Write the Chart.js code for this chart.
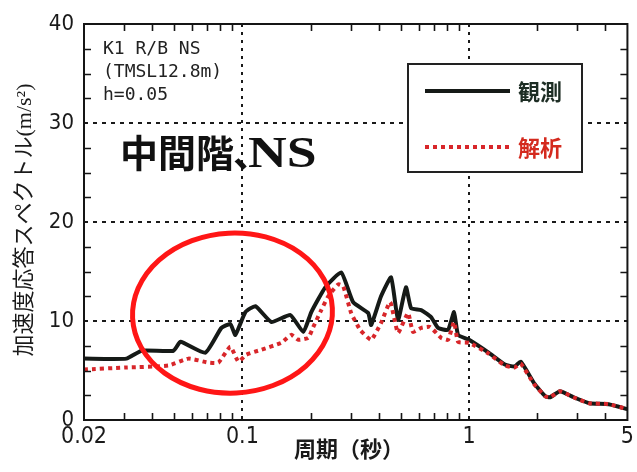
<!DOCTYPE html>
<html>
<head>
<meta charset="utf-8">
<script src="https://cdn.jsdelivr.net/npm/chart.js@4.4.1/dist/chart.umd.min.js"></script>
<style>
  html, body { margin: 0; padding: 0; background: #fff; }
  #wrap { width: 637px; height: 472px; position: relative; }
</style>
</head>
<body>
<div id="wrap"><canvas id="spectrumChart"></canvas></div>
<script>
// 周期 (秒) / 加速度応答 (m/s2)
const obsPeriod = [0.02, 0.0308, 0.0359, 0.0497, 0.0533, 0.0687, 0.0808, 0.0885, 0.0931, 0.1031,
  0.1141, 0.1342, 0.1627, 0.1857, 0.2014, 0.2321, 0.273, 0.308, 0.359, 0.370,
  0.409, 0.453, 0.486, 0.527, 0.555, 0.615, 0.680, 0.730, 0.808, 0.859,
  0.895, 1.0, 1.22, 1.44, 1.59, 1.69, 1.94, 2.17, 2.28, 2.52,
  2.89, 3.39, 4.13, 5.0];
const obsAccel = [6.2, 6.2, 7.0, 7.0, 7.9, 6.8, 9.3, 9.7, 8.6, 10.9,
  11.5, 9.9, 10.6, 8.9, 10.9, 13.4, 14.9, 11.9, 10.8, 9.6,
  12.5, 14.4, 10.1, 13.4, 11.3, 11.1, 10.4, 9.3, 9.1, 10.9,
  8.6, 8.1, 6.8, 5.6, 5.4, 5.9, 3.7, 2.4, 2.3, 2.9,
  2.3, 1.7, 1.6, 1.1];

const anaPeriod = [0.02, 0.0305, 0.0472, 0.0578, 0.0708, 0.0784, 0.0885, 0.0960, 0.1041, 0.1212,
  0.1485, 0.1644, 0.1765, 0.1953, 0.2055, 0.2228, 0.2393, 0.2648, 0.2786, 0.302,
  0.331, 0.370, 0.409, 0.449, 0.486, 0.538, 0.566, 0.615, 0.673, 0.753,
  0.808, 0.859, 0.895, 1.0, 1.22, 1.44, 1.59, 1.69, 1.94, 2.17,
  2.28, 2.52, 2.89, 3.39, 4.13, 5.0];
const anaAccel = [5.1, 5.3, 5.5, 6.2, 5.8, 5.8, 7.4, 5.9, 6.6, 7.1,
  7.8, 8.6, 8.1, 8.3, 9.4, 11.1, 12.5, 13.7, 13.5, 10.8,
  9.1, 8.1, 9.8, 11.9, 8.8, 10.8, 8.9, 9.3, 9.4, 8.3,
  8.1, 9.9, 7.9, 7.8, 6.7, 5.5, 5.3, 5.7, 3.6, 2.4,
  2.3, 2.9, 2.3, 1.7, 1.6, 1.1];

const seriesLabels = ['観測', '解析'];
const xTickValues = [0.02, 0.1, 1, 5];
const xTickLabels = ['0.02', '0.1', '1', '5'];
const xMinorTicks = [0.03, 0.04, 0.05, 0.06, 0.07, 0.08, 0.09, 0.2, 0.3, 0.4, 0.5, 0.6, 0.7, 0.8, 0.9, 2, 3, 4];
const yMinorTicks = [2.5, 5, 7.5, 12.5, 15, 17.5, 22.5, 25, 27.5, 32.5, 35, 37.5];
const noteLines = ['K1 R/B NS', '(TMSL12.8m)', 'h=0.05'];
const bigNoteJp = '中間階';
const bigNoteSep = '、';
const bigNoteEn = 'NS';
const xTitle = '周期（秒）';
const yTitle = '加速度応答スペクトル(m/s²)';

document.addEventListener('DOMContentLoaded', () => {
  initSpectrumChart();
});

function initSpectrumChart() {
  const canvas = document.getElementById('spectrumChart');
  if (typeof Chart === 'undefined') {
    console.warn('Chart.js is not loaded.');
    return;
  }

  const obsColor = '#161a17';
  const anaColor = '#d8262a';
  const labelFont = "'Liberation Sans Narrow', 'DejaVu Sans Condensed', sans-serif";
  const jpFont = "'Noto Sans CJK JP', sans-serif";

  // frame, inward minor ticks, notes, legend box, red ellipse
  const decorPlugin = {
    id: 'decor',
    afterDraw(chart) {
      const { ctx, chartArea: a, scales: { x, y } } = chart;
      ctx.save();

      ctx.strokeStyle = '#151515';
      ctx.lineWidth = 2;
      ctx.strokeRect(a.left, a.top, a.right - a.left, a.bottom - a.top);

      ctx.lineWidth = 1.6;
      ctx.beginPath();
      yMinorTicks.forEach(v => {
        const py = Math.round(y.getPixelForValue(v)) + 0.5;
        ctx.moveTo(a.left, py); ctx.lineTo(a.left + 7, py);
        ctx.moveTo(a.right, py); ctx.lineTo(a.right - 7, py);
      });
      xMinorTicks.forEach(v => {
        const px = Math.round(x.getPixelForValue(v)) + 0.5;
        ctx.moveTo(px, a.bottom); ctx.lineTo(px, a.bottom - 7);
        ctx.moveTo(px, a.top); ctx.lineTo(px, a.top + 7);
      });
      ctx.stroke();

      // small condition notes
      ctx.fillStyle = '#222';
      ctx.font = "18px 'DejaVu Sans Mono', monospace";
      ctx.textBaseline = 'alphabetic';
      ctx.textAlign = 'left';
      noteLines.forEach((t, i) => ctx.fillText(t, a.left + 19, a.top + 30 + i * 23));

      // big caption: CJK part, comma, then a wide serif "NS"
      ctx.fillStyle = '#111';
      const capX = a.left + 36, capY = a.top + 143;
      ctx.font = 'bold 38px ' + jpFont;
      ctx.fillText(bigNoteJp, capX, capY);
      const jpW = ctx.measureText(bigNoteJp).width;
      ctx.fillText(bigNoteSep, capX + jpW - 1, capY);
      ctx.save();
      ctx.translate(capX + jpW + 14, capY);
      ctx.scale(1.22, 1);
      ctx.font = "bold 44px 'Liberation Serif', serif";
      ctx.fillText(bigNoteEn, 0, 0);
      ctx.restore();

      // legend box
      const lx = a.left + 324, ly = a.top + 40, lw = 174, lh = 108;
      ctx.fillStyle = '#fff';
      ctx.fillRect(lx, ly, lw, lh);
      ctx.strokeStyle = '#222';
      ctx.lineWidth = 2;
      ctx.strokeRect(lx, ly, lw, lh);

      const ds = chart.data.datasets;
      const rows = [ly + 27, ly + 83];
      ds.forEach((d, i) => {
        ctx.beginPath();
        ctx.strokeStyle = d.borderColor;
        ctx.lineWidth = 4;
        ctx.setLineDash(d.borderDash || []);
        ctx.moveTo(lx + 17, rows[i]);
        ctx.lineTo(lx + 102, rows[i]);
        ctx.stroke();
        ctx.setLineDash([]);
        ctx.fillStyle = i === 0 ? '#1d2d24' : '#d42a1e';
        ctx.font = 'bold 22px ' + jpFont;
        ctx.textBaseline = 'middle';
        ctx.fillText(d.label, lx + 110, rows[i] + 1);
      });

      // axis titles
      ctx.fillStyle = '#1a1a1a';
      ctx.font = "22px 'Liberation Serif', 'Noto Sans CJK JP', serif";
      ctx.textAlign = 'center';
      ctx.save();
      ctx.translate(25, 220);
      ctx.rotate(-Math.PI / 2);
      ctx.fillText(yTitle, 0, 0);
      ctx.restore();

      ctx.font = 'bold 22px ' + jpFont;
      ctx.textBaseline = 'top';
      ctx.fillText(xTitle, 349, 438);

      // red ellipse highlighting the short-period range
      ctx.strokeStyle = '#ff1616';
      ctx.lineWidth = 5;
      ctx.beginPath();
      ctx.ellipse(x.getPixelForValue(0.0904), y.getPixelForValue(10.8), 100, 80, -0.05, 0, Math.PI * 2);
      ctx.stroke();

      ctx.restore();
    }
  };

  new Chart(canvas, {
    type: 'line',
    data: {
      datasets: [
        {
          label: seriesLabels[0],
          data: obsPeriod.map((p, i) => ({ x: p, y: obsAccel[i] })),
          borderColor: obsColor,
          borderWidth: 4,
          pointRadius: 0,
          tension: 0.15,
          order: 2
        },
        {
          label: seriesLabels[1],
          data: anaPeriod.map((p, i) => ({ x: p, y: anaAccel[i] })),
          borderColor: anaColor,
          borderWidth: 4,
          borderDash: [4, 4],
          pointRadius: 0,
          tension: 0.15,
          order: 1
        }
      ]
    },
    options: {
      responsive: true,
      maintainAspectRatio: false,
      animation: false,
      layout: { padding: { top: 24, right: 5, bottom: 0, left: 0 }, autoPadding: false },
      plugins: {
        legend: { display: false },
        tooltip: { enabled: false }
      },
      scales: {
        x: {
          type: 'logarithmic',
          min: 0.02,
          max: 5,
          afterBuildTicks: s => { s.ticks = xTickValues.map(v => ({ value: v })); },
          afterFit: s => { s.height = 52; },
          grid: {
            drawTicks: false,
            lineWidth: 2,
            color: c => (c.tick && (c.tick.value === 0.1 || c.tick.value === 1)) ? '#1a1a1a' : 'rgba(0,0,0,0)'
          },
          border: { display: false, dash: [3, 5] },
          ticks: {
            autoSkip: false,
            maxRotation: 0,
            padding: 3,
            color: '#1a1a1a',
            font: { family: labelFont, size: 23 },
            callback: v => {
              const i = xTickValues.indexOf(v);
              return i >= 0 ? xTickLabels[i] : '';
            }
          }
        },
        y: {
          min: 0,
          max: 40,
          afterFit: s => { s.width = 84; },
          grid: {
            drawTicks: false,
            lineWidth: 2,
            color: c => (c.tick && c.tick.value > 0 && c.tick.value < 40) ? '#1a1a1a' : 'rgba(0,0,0,0)'
          },
          border: { display: false, dash: [4, 5] },
          ticks: {
            stepSize: 10,
            padding: 10,
            color: '#1a1a1a',
            font: { family: labelFont, size: 22 }
          }
        }
      }
    },
    plugins: [decorPlugin]
  });
}
</script>
</body>
</html>
